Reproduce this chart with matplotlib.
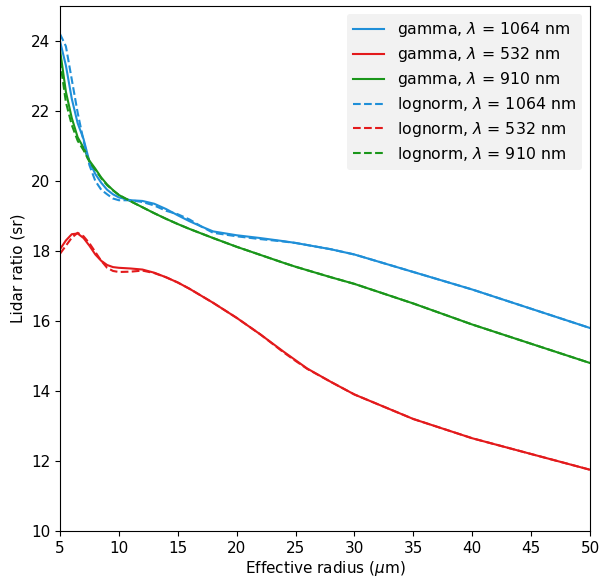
import matplotlib
matplotlib.use("Agg")
import matplotlib.pyplot as plt

# effective radius grid (um)
r = [5, 5.5, 6, 6.5, 7, 7.5, 8, 8.5, 9, 9.5, 10, 11, 12, 13, 14, 15, 16, 17, 18, 20, 22, 24,
     25, 26, 28, 30, 35, 40, 45, 50]

gamma_1064 = [24.0, 23.3, 22.35, 21.65, 21.2, 20.55, 20.2, 19.95, 19.75, 19.62, 19.53, 19.45,
              19.43, 19.35, 19.2, 19.02, 18.85, 18.7, 18.56, 18.45, 18.37, 18.28, 18.23, 18.17,
              18.05, 17.9, 17.4, 16.9, 16.35, 15.8]
gamma_532 = [18.05, 18.3, 18.48, 18.5, 18.37, 18.15, 17.9, 17.72, 17.6, 17.54, 17.52, 17.5,
             17.47, 17.38, 17.25, 17.1, 16.92, 16.72, 16.52, 16.09, 15.62, 15.12, 14.88, 14.64,
             14.26, 13.9, 13.2, 12.65, 12.2, 11.75]
gamma_910 = [23.75, 22.55, 21.8, 21.25, 20.95, 20.58, 20.35, 20.1, 19.9, 19.74, 19.6, 19.42,
             19.25, 19.08, 18.92, 18.77, 18.63, 18.5, 18.37, 18.12, 17.89, 17.66, 17.55, 17.45,
             17.25, 17.06, 16.5, 15.9, 15.35, 14.8]

logn_1064 = [24.2, 23.85, 22.9, 21.95, 21.15, 20.45, 20.0, 19.75, 19.62, 19.5, 19.45, 19.45,
             19.4, 19.3, 19.15, 19.05, 18.9, 18.7, 18.52, 18.42, 18.34, 18.27, 18.23, 18.17,
             18.05, 17.9, 17.4, 16.9, 16.35, 15.8]
logn_532 = [17.92, 18.15, 18.38, 18.52, 18.42, 18.22, 17.97, 17.72, 17.52, 17.43, 17.4, 17.41,
            17.44, 17.37, 17.25, 17.1, 16.92, 16.72, 16.52, 16.09, 15.62, 15.1, 14.86, 14.63,
            14.26, 13.9, 13.2, 12.65, 12.2, 11.75]
logn_910 = [23.45, 22.25, 21.6, 21.15, 20.88, 20.55, 20.32, 20.08, 19.88, 19.73, 19.6, 19.42,
            19.25, 19.08, 18.92, 18.77, 18.63, 18.5, 18.37, 18.12, 17.89, 17.66, 17.55, 17.45,
            17.25, 17.06, 16.5, 15.9, 15.35, 14.8]

c_blue, c_red, c_green = "#1f8fd8", "#e31a1c", "#1a961a"

fig = plt.figure(figsize=(6.02, 5.81), dpi=100)
ax = fig.add_axes([60 / 602, 50 / 581, 530 / 602, 525 / 581])

ax.plot(r, gamma_1064, color=c_blue, lw=1.5, label=r"gamma, $\lambda$ = 1064 nm")
ax.plot(r, gamma_532, color=c_red, lw=1.5, label=r"gamma, $\lambda$ = 532 nm")
ax.plot(r, gamma_910, color=c_green, lw=1.5, label=r"gamma, $\lambda$ = 910 nm")
ax.plot(r, logn_1064, color=c_blue, lw=1.5, ls="--", label=r"lognorm, $\lambda$ = 1064 nm")
ax.plot(r, logn_532, color=c_red, lw=1.5, ls="--", label=r"lognorm, $\lambda$ = 532 nm")
ax.plot(r, logn_910, color=c_green, lw=1.5, ls="--", label=r"lognorm, $\lambda$ = 910 nm")

ax.set_xlim(5, 50)
ax.set_ylim(10, 25)
ax.set_xticks(range(5, 51, 5))
ax.set_yticks(range(10, 25, 2))
ax.tick_params(labelsize=11)
ax.set_xlabel(r"Effective radius ($\mu$m)", fontsize=11, labelpad=2)
ax.set_ylabel("Lidar ratio (sr)", fontsize=11)

leg = ax.legend(loc="upper right", fontsize=11.3, frameon=True, facecolor="#f2f2f2",
                edgecolor="none", framealpha=1.0, labelspacing=0.38)

fig.savefig("out.png", dpi=100)
